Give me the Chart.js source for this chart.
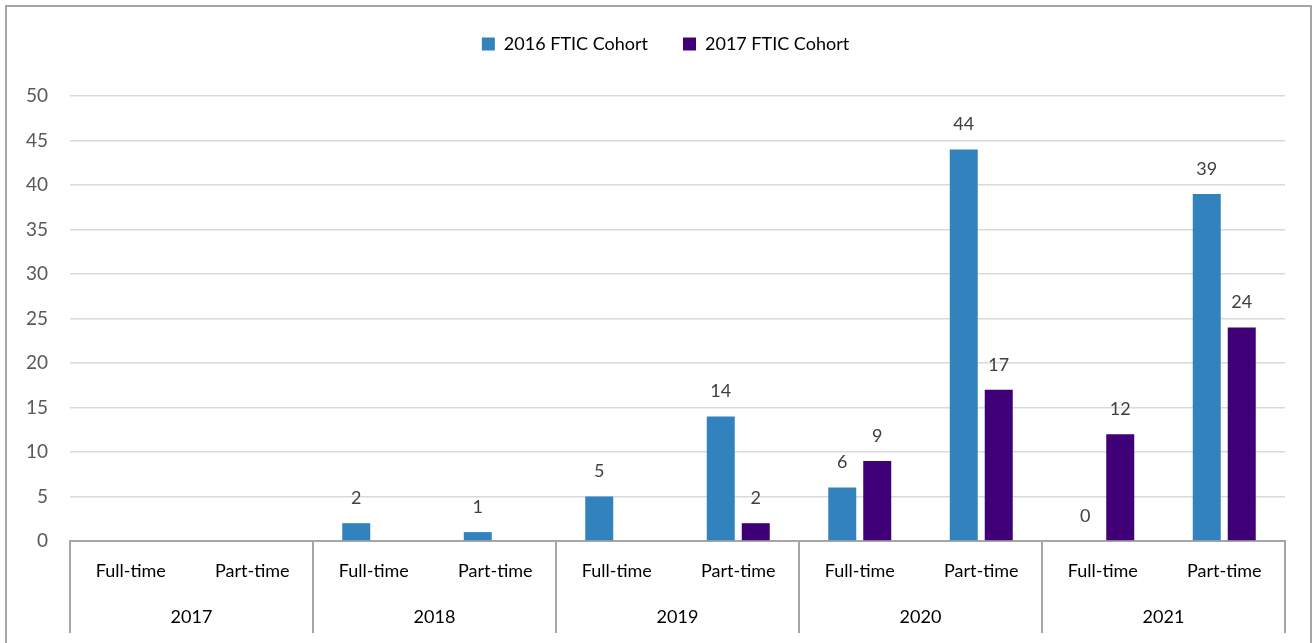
<!DOCTYPE html>
<html><head><meta charset="utf-8">
<script src="https://cdn.jsdelivr.net/npm/chart.js@4.4.0/dist/chart.umd.min.js"></script>
<style>
html,body{margin:0;padding:0;background:#fff;overflow:hidden}
#wrap{position:absolute;left:0;top:0;width:1315px;height:643px}
#frame{position:absolute;left:5px;top:5px;width:1303px;height:700px;border:2px solid #A6A6A6;border-bottom:none;pointer-events:none}
</style></head><body>
<div id="wrap"><canvas id="c" width="1315" height="643"></canvas></div>
<div id="frame"></div>
<script>
const years = ['2017', '2018', '2019', '2020', '2021'];
const statuses = ['Full-time', 'Part-time'];
const categories = ['Full-time', 'Part-time', 'Full-time', 'Part-time', 'Full-time', 'Part-time', 'Full-time', 'Part-time', 'Full-time', 'Part-time'];
const cohort2016 = [null, null, 2, 1, 5, 14, 6, 44, 0, 39];
const cohort2017 = [null, null, null, null, null, 2, 9, 17, 12, 24];
const yTicks = [0, 5, 10, 15, 20, 25, 30, 35, 40, 45, 50];

const FONT = 'Lato, "Open Sans", sans-serif';
const FS = 18;

const dataLabels = {
  id: 'dataLabels',
  afterDatasetsDraw(chart) {
    const ctx = chart.ctx;
    ctx.save();
    ctx.font = FS + 'px ' + FONT;
    ctx.fillStyle = '#404040';
    ctx.textAlign = 'center';
    ctx.textBaseline = 'middle';
    chart.data.datasets.forEach((ds, i) => {
      const meta = chart.getDatasetMeta(i);
      meta.data.forEach((el, j) => {
        const v = ds.data[j];
        if (v === null || v === undefined) return;
        ctx.fillText(String(v), el.x, el.y - 25);
      });
    });
    ctx.restore();
  }
};

const groupLines = {
  id: 'groupLines',
  afterDraw(chart) {
    const x = chart.scales.x, x2 = chart.scales.x2;
    const ctx = chart.ctx;
    ctx.save();
    ctx.strokeStyle = '#A6A6A6';
    ctx.lineWidth = 2;
    const top = chart.chartArea.bottom;
    const bottom = x2.bottom;
    const xs = [chart.chartArea.left];
    for (let k = 1; k < years.length; k++) {
      const a = x.getPixelForValue(k * statuses.length - 1);
      const b = x.getPixelForValue(k * statuses.length);
      xs.push((a + b) / 2);
    }
    xs.push(chart.chartArea.right);
    xs.forEach(px => {
      ctx.beginPath();
      ctx.moveTo(Math.round(px), top);
      ctx.lineTo(Math.round(px), bottom);
      ctx.stroke();
    });
    ctx.restore();
  }
};

const legendSpacing = {
  id: 'legendSpacing',
  afterInit(chart) {
    const lg = chart.legend;
    const fit = lg.fit;
    lg.fit = function () { fit.call(lg); lg.height += 33; };
  },
  afterLayout(chart) {
    const lg = chart.legend;
    lg.left += 23; lg.right += 23;
    if (lg.legendHitBoxes) lg.legendHitBoxes.forEach(b => { b.left += 23; });
  }
};

new Chart(document.getElementById('c'), {
  type: 'bar',
  data: {
    labels: categories,
    datasets: [
      { label: '2016 FTIC Cohort', data: cohort2016, backgroundColor: '#3182BD', xAxisID: 'x', barPercentage: 0.8, categoryPercentage: 0.576 },
      { label: '2017 FTIC Cohort', data: cohort2017, backgroundColor: '#3F0077', xAxisID: 'x', barPercentage: 0.8, categoryPercentage: 0.576 }
    ]
  },
  options: {
    responsive: false,
    animation: false,
    devicePixelRatio: 1,
    layout: { padding: { left: 0, right: 30, top: 0, bottom: 10 } },
    plugins: {
      legend: {
        position: 'top',
        labels: {
          boxWidth: 13, boxHeight: 13, padding: 35,
          color: '#000', font: { size: FS, family: FONT }
        }
      },
      tooltip: { enabled: false }
    },
    scales: {
      y: {
        min: 0, max: 50,
        afterBuildTicks(scale) { scale.ticks = yTicks.map(v => ({ value: v })); },
        afterFit(scale) { scale.width = 70; },
        ticks: { color: '#595959', font: { size: FS + 1, family: FONT }, padding: 22 },
        grid: { color: '#D9D9D9', lineWidth: 1.5, drawTicks: false },
        border: { display: false }
      },
      x: {
        type: 'category',
        position: 'bottom',
        afterFit(scale) { scale.height = 46; },
        ticks: { color: '#000', font: { size: FS, family: FONT }, padding: 19, maxRotation: 0, autoSkip: false },
        grid: { display: false, drawTicks: false },
        border: { display: true, color: '#A6A6A6', width: 2 }
      },
      x2: {
        type: 'category',
        position: 'bottom',
        labels: years,
        offset: true,
        afterFit(scale) { scale.height = 46; },
        ticks: { color: '#000', font: { size: FS, family: FONT }, padding: 19, maxRotation: 0, autoSkip: false },
        grid: { display: false, drawTicks: false },
        border: { display: false }
      }
    }
  },
  plugins: [dataLabels, groupLines, legendSpacing]
});
</script>
</body></html>
